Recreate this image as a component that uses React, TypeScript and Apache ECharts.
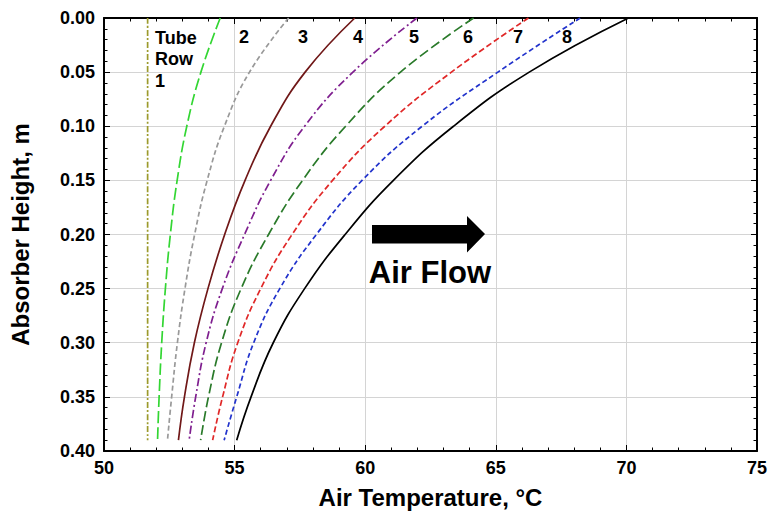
import React, { useEffect, useRef } from "react";
import * as echarts from "echarts";

// Absorber height (m) at which each tube-row temperature was sampled
const heights = [0, 0.05, 0.1, 0.15, 0.2, 0.25, 0.3, 0.35, 0.39];

// Air temperature (°C) leaving each tube row, at the heights above
const inletTemp = [51.67, 51.67, 51.67, 51.67, 51.67, 51.67, 51.67, 51.67, 51.67];
const row1Temp = [54.45, 53.71, 53.17, 52.8, 52.54, 52.35, 52.21, 52.11, 52.05];
const row2Temp = [57.07, 55.57, 54.61, 53.95, 53.47, 53.1, 52.81, 52.59, 52.43];
const row3Temp = [59.6, 57.7, 56.38, 55.4, 54.62, 53.98, 53.46, 53.08, 52.85];
const row4Temp = [61.98, 59.53, 57.68, 56.38, 55.38, 54.53, 53.91, 53.51, 53.26];
const row5Temp = [64.15, 61.35, 59.25, 57.6, 56.3, 55.25, 54.5, 54.0, 53.7];
const row6Temp = [66.25, 63.3, 60.75, 58.75, 57.2, 56.0, 55.12, 54.54, 54.16];
const row7Temp = [68.23, 65.08, 62.18, 59.88, 58.13, 56.73, 55.73, 55.08, 54.6];
const row8Temp = [70.08, 66.28, 63.38, 61.08, 59.23, 57.68, 56.48, 55.63, 55.08];

// Row numbers written along the top of the plot
const rowLabels = ["2", "3", "4", "5", "6", "7", "8"];

const FONT = "'Liberation Sans', Arial, Helvetica, sans-serif";

type Curve = {
  name: string;
  temps: number[];
  color: string;
  dash: number[] | "solid";
};

const curves: Curve[] = [
  { name: "inlet", temps: inletTemp, color: "#9c9a2c", dash: [6, 2, 2, 2] },
  { name: "row1", temps: row1Temp, color: "#33d633", dash: [12, 4] },
  { name: "row2", temps: row2Temp, color: "#999999", dash: [5, 3] },
  { name: "row3", temps: row3Temp, color: "#701818", dash: "solid" },
  { name: "row4", temps: row4Temp, color: "#7f1f8f", dash: [8, 3, 2, 3] },
  { name: "row5", temps: row5Temp, color: "#2a7a2a", dash: [10, 4] },
  { name: "row6", temps: row6Temp, color: "#e02828", dash: [6, 3] },
  { name: "row7", temps: row7Temp, color: "#2233cc", dash: [5, 3] },
  { name: "row8", temps: row8Temp, color: "#000000", dash: "solid" },
];

export default function App() {
  const ref = useRef<HTMLDivElement>(null);

  useEffect(() => {
    if (!ref.current) return;
    const chart = echarts.init(ref.current, undefined, { renderer: "svg" });

    const tickStyle = {
      axisTick: { show: true, inside: true, length: 6, lineStyle: { color: "#000", width: 1 } },
      minorTick: { show: true, splitNumber: 5, length: 3.5, lineStyle: { color: "#000", width: 1 } },
    };

    const frameAxis = {
      axisLine: { show: true, onZero: false, lineStyle: { color: "#000", width: 2 } },
      ...tickStyle,
      splitLine: { show: false },
      axisLabel: { show: false },
    };

    const rowLabelXs = [244, 303, 358, 414, 468, 518, 567];

    chart.setOption({
      animation: false,
      backgroundColor: "#ffffff",
      grid: { left: 102, right: 16, top: 18, bottom: 73, containLabel: false },
      xAxis: [
        {
          type: "value",
          position: "bottom",
          min: 50,
          max: 75,
          interval: 5,
          name: "Air Temperature, °C",
          nameLocation: "middle",
          nameGap: 34,
          nameTextStyle: { fontFamily: FONT, fontWeight: "bold", fontSize: 24, color: "#000" },
          axisLine: { show: true, onZero: false, lineStyle: { color: "#000", width: 2 } },
          ...tickStyle,
          splitLine: { show: true, lineStyle: { color: "#d4d4d4", width: 1 } },
          axisLabel: { fontFamily: FONT, fontWeight: "bold", fontSize: 18, color: "#000", margin: 8 },
        },
        { ...frameAxis, type: "value", position: "top", min: 50, max: 75, interval: 5 },
      ],
      yAxis: [
        {
          type: "value",
          position: "left",
          inverse: true,
          min: 0,
          max: 0.4,
          interval: 0.05,
          name: "Absorber Height, m",
          nameLocation: "middle",
          nameGap: 72,
          nameRotate: 90,
          nameTextStyle: { fontFamily: FONT, fontWeight: "bold", fontSize: 24, color: "#000" },
          axisLine: { show: true, onZero: false, lineStyle: { color: "#000", width: 2 } },
          ...tickStyle,
          splitLine: { show: true, lineStyle: { color: "#d4d4d4", width: 1 } },
          axisLabel: {
            fontFamily: FONT,
            fontWeight: "bold",
            fontSize: 18,
            color: "#000",
            margin: 9,
            formatter: (v: number) => v.toFixed(2),
          },
        },
        { ...frameAxis, type: "value", position: "right", inverse: true, min: 0, max: 0.4, interval: 0.05 },
      ],
      series: curves.map((c) => ({
        name: c.name,
        type: "line",
        xAxisIndex: 0,
        yAxisIndex: 0,
        smooth: 0.45,
        showSymbol: false,
        symbol: "none",
        lineStyle: { color: c.color, width: 1.7, type: c.dash },
        data: c.temps.map((t, i) => [t, heights[i]]),
        z: 3,
      })),
      graphic: [
        {
          type: "text",
          left: 155,
          top: 27,
          style: {
            text: "Tube\nRow\n1",
            fontFamily: FONT,
            fontWeight: "bold",
            fontSize: 18,
            lineHeight: 21.5,
            fill: "#000",
          },
          z: 10,
        },
        ...rowLabels.map((t, i) => ({
          type: "text",
          x: rowLabelXs[i],
          y: 37,
          style: {
            text: t,
            fontFamily: FONT,
            fontWeight: "bold",
            fontSize: 18,
            fill: "#000",
            align: "center",
            verticalAlign: "middle",
          },
          z: 10,
        })),
        {
          type: "polygon",
          shape: {
            points: [
              [372, 225],
              [467, 225],
              [467, 216],
              [485, 234],
              [467, 252.5],
              [467, 243.5],
              [372, 243.5],
            ],
          },
          style: { fill: "#000" },
          z: 10,
        },
        {
          type: "text",
          x: 430,
          y: 272,
          style: {
            text: "Air Flow",
            fontFamily: FONT,
            fontWeight: "bold",
            fontSize: 31,
            fill: "#000",
            align: "center",
            verticalAlign: "middle",
          },
          z: 10,
        },
      ],
    });

    return () => chart.dispose();
  }, []);

  return <div ref={ref} style={{ width: 773, height: 524, position: "absolute", left: 0, top: 0 }} />;
}
